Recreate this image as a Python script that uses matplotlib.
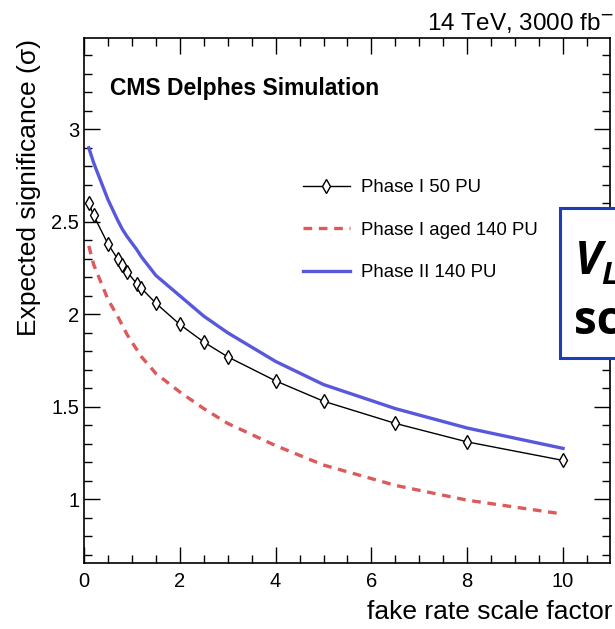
import matplotlib
matplotlib.use("Agg")
import matplotlib.pyplot as plt
from matplotlib.ticker import MultipleLocator
from matplotlib.patches import Rectangle

plt.rcParams['font.family'] = ['Liberation Sans', 'DejaVu Sans']

# fake rate scale factor points
scale = [0.1, 0.2, 0.5, 0.7, 0.8, 0.9, 1.1, 1.2, 1.5, 2.0, 2.5, 3.0, 4.0, 5.0, 6.5, 8.0, 10.0]

# expected significance per scenario
phase1_50pu = [2.60, 2.535, 2.38, 2.30, 2.265, 2.23, 2.165, 2.14, 2.06, 1.945, 1.85, 1.77,
               1.64, 1.53, 1.41, 1.31, 1.21]
phase1_aged_140pu = [2.37, 2.27, 2.08, 1.99, 1.94, 1.89, 1.81, 1.77, 1.68, 1.58, 1.49, 1.41,
                     1.29, 1.185, 1.075, 0.995, 0.92]
phase2_140pu = [2.90, 2.82, 2.62, 2.51, 2.46, 2.42, 2.35, 2.31, 2.21, 2.10, 1.99, 1.90,
                1.745, 1.62, 1.49, 1.385, 1.275]

W, H = 615, 629
AX_L, AX_R, AX_T, AX_B = 84, 610, 38.3, 562.7
fig = plt.figure(figsize=(W / 100, H / 100), dpi=100)
ax = fig.add_axes([AX_L / W, 1 - AX_B / H, (AX_R - AX_L) / W, (AX_B - AX_T) / H])

def ax_frac(px, py):
    return (px - AX_L) / (AX_R - AX_L), 1 - (py - AX_T) / (AX_B - AX_T)

ax.plot(scale, phase1_50pu, color='black', lw=1.0, marker='d', ms=7,
        mfc='white', mec='black', mew=1.0, label='Phase I 50 PU')
ax.plot(scale, phase1_aged_140pu, color='#dc5a5a', lw=2.4, dashes=(2.6, 2.0),
        label='Phase I aged 140 PU')
ax.plot(scale, phase2_140pu, color='#5858dc', lw=2.4, label='Phase II 140 PU')

ax.set_xlim(0, 10.98)
ax.set_ylim(0.657, 3.492)
ax.xaxis.set_major_locator(MultipleLocator(2))
ax.xaxis.set_minor_locator(MultipleLocator(0.5))
ax.yaxis.set_major_locator(MultipleLocator(0.5))
ax.yaxis.set_minor_locator(MultipleLocator(0.1))
ax.tick_params(which='both', direction='in', top=True, right=True, width=1.0,
               labelsize=14.5)
ax.tick_params(which='major', length=11.5)
ax.tick_params(which='minor', length=5.5)
ax.tick_params(axis='x', which='major', pad=6.5)
ax.tick_params(axis='y', which='major', pad=3.5)
ax.yaxis.set_major_formatter(plt.FuncFormatter(lambda v, p: ('%g' % v)))
for s in ax.spines.values():
    s.set_linewidth(1.2)

ax.set_xlabel('fake rate scale factor', fontsize=19, ha='right')
ax.xaxis.set_label_coords(1.004, -0.072)
ax.set_ylabel('Expected significance (σ)', fontsize=19, ha='right')
ax.yaxis.set_label_coords(-0.082, 0.999)

fig.text(625 / W, 1 - 22 / H, '14 TeV, 3000 fb$^{-1}$', fontsize=17.5,
         ha='right', va='center')
tx, ty = ax_frac(110, 88)
ax.text(tx, ty, 'CMS Delphes Simulation', transform=ax.transAxes, fontsize=16.5,
        fontweight='bold', va='center')

lx, ly = ax_frac(303, 179)
leg = ax.legend(loc='upper left', bbox_to_anchor=(lx, ly),
                frameon=False, fontsize=13.4, handlelength=2.5, handletextpad=0.6,
                labelspacing=1.38, borderpad=0, borderaxespad=0)

# blue-framed box on the right edge
fig.patches.append(Rectangle((559.5 / W, 1 - 358 / H), 80 / W, (358 - 208) / H,
                             transform=fig.transFigure, facecolor='white',
                             edgecolor='#1c3cb8', lw=2.2, zorder=10))
fig.text(575 / W, 1 - 262 / H, 'V', fontsize=33, fontweight='bold', fontstyle='italic',
         family='Open Sans', ha='left', va='center', zorder=11)
fig.text(601 / W, 1 - 276 / H, 'L', fontsize=22, fontweight='bold', fontstyle='italic',
         family='Open Sans', ha='left', va='center', zorder=11)
fig.text(574 / W, 1 - 322 / H, 'sc', fontsize=33, fontweight='bold',
         family='Open Sans', ha='left', va='center', zorder=11)

fig.savefig('out.png', dpi=100)
